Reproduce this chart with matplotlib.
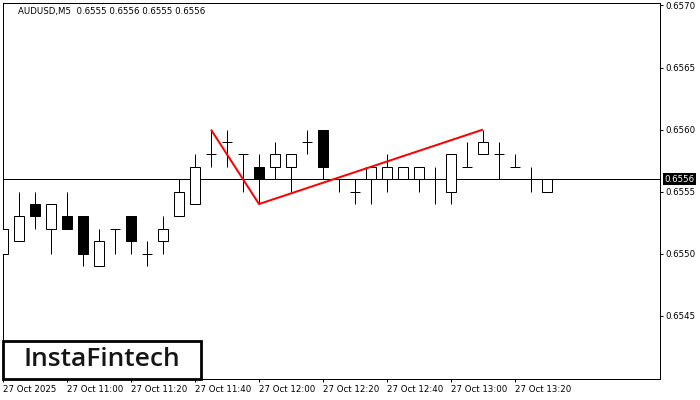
import matplotlib
matplotlib.use('Agg')
import matplotlib.pyplot as plt
from matplotlib.patches import Rectangle

# ---- data ----
symbol_title = "AUDUSD,M5  0.6555 0.6556 0.6555 0.6556"
opens  = [0.6550, 0.6551, 0.6554, 0.6552, 0.6553, 0.6553, 0.6549, 0.6552, 0.6553, 0.6550,
          0.6551, 0.6553, 0.6554, 0.6558, 0.6559, 0.6558, 0.6557, 0.6557, 0.6557, 0.6559,
          0.6560, 0.6556, 0.6555, 0.6556, 0.6556, 0.6556, 0.6556, 0.6556, 0.6555, 0.6557,
          0.6558, 0.6558, 0.6557, 0.6556, 0.6555]
highs  = [0.6552, 0.6555, 0.6555, 0.6554, 0.6555, 0.6553, 0.6552, 0.6552, 0.6553, 0.6551,
          0.6553, 0.6556, 0.6558, 0.6560, 0.6560, 0.6558, 0.6558, 0.6559, 0.6558, 0.6560,
          0.6560, 0.6556, 0.6556, 0.6557, 0.6558, 0.6557, 0.6557, 0.6557, 0.6558, 0.6559,
          0.6560, 0.6559, 0.6558, 0.6557, 0.6556]
lows   = [0.6548, 0.6551, 0.6552, 0.6550, 0.6552, 0.6549, 0.6549, 0.6550, 0.6550, 0.6549,
          0.6550, 0.6553, 0.6554, 0.6557, 0.6557, 0.6555, 0.6554, 0.6556, 0.6555, 0.6558,
          0.6556, 0.6555, 0.6554, 0.6554, 0.6555, 0.6556, 0.6555, 0.6554, 0.6554, 0.6557,
          0.6558, 0.6556, 0.6557, 0.6555, 0.6555]
closes = [0.6552, 0.6553, 0.6553, 0.6554, 0.6552, 0.6550, 0.6551, 0.6552, 0.6551, 0.6550,
          0.6552, 0.6555, 0.6557, 0.6558, 0.6559, 0.6558, 0.6556, 0.6558, 0.6558, 0.6559,
          0.6557, 0.6556, 0.6555, 0.6557, 0.6557, 0.6557, 0.6557, 0.6556, 0.6558, 0.6557,
          0.6559, 0.6558, 0.6557, 0.6556, 0.6556]
current_price = 0.6556
pattern_idx = [13, 16, 30]
pattern_price = [0.6560, 0.6554, 0.6560]
xtick_idx = [0, 4, 8, 12, 16, 20, 24, 28, 32]
xtick_labels = ["27 Oct 2025", "27 Oct 11:00", "27 Oct 11:20", "27 Oct 11:40", "27 Oct 12:00",
                "27 Oct 12:20", "27 Oct 12:40", "27 Oct 13:00", "27 Oct 13:20"]
yticks = [0.6545, 0.6550, 0.6555, 0.6560, 0.6565, 0.6570]
logo_text = "InstaFintech"

# ---- figure ----
W, H = 700, 400
fig = plt.figure(figsize=(7, 4), dpi=100)
fig.patch.set_facecolor('white')
L, R, T, B = 3, 659.5, 3, 379
ax = fig.add_axes([L / W, 1 - B / H, (R - L) / W, (B - T) / H])
px = 0.72  # one pixel in points

FS = 6.2
plt.rcParams['font.family'] = ['DejaVu Sans']

ax.set_xlim(0, (R - L) / 16.0)
ax.set_ylim(0.65399, 0.65702)

ax.axhline(current_price, color='black', lw=px, zorder=1)

bw = 0.58
for i, (o, h, l, c) in enumerate(zip(opens, highs, lows, closes)):
    ax.vlines(i, l, h, color='black', lw=px, zorder=2)
    if abs(c - o) < 1e-9:
        ax.hlines(o, i - bw / 2, i + bw / 2, color='black', lw=px, zorder=3)
    else:
        fc = 'white' if c > o else 'black'
        ax.add_patch(Rectangle((i - bw / 2, min(o, c)), bw, abs(c - o),
                               facecolor=fc, edgecolor='black', lw=px, zorder=3))

ax.plot(pattern_idx, pattern_price, color='#ff0000', lw=2 * px, zorder=5,
        solid_capstyle='butt')

for s in ax.spines.values():
    s.set_linewidth(px)
    s.set_color('black')

ax.yaxis.tick_right()
ax.set_yticks(yticks)
ax.set_yticklabels([f"{v:.4f}" for v in yticks])
ax.set_xticks(xtick_idx)
ax.set_xticklabels(xtick_labels, ha='left')
ax.tick_params(axis='both', direction='out', length=3 * px, width=px,
               labelsize=FS, colors='black')
ax.tick_params(axis='y', pad=2)
ax.tick_params(axis='x', pad=2)

ax.annotate(f"{current_price:.4f}", xy=(1.0, current_price),
            xycoords=('axes fraction', 'data'), xytext=(3.5, 0),
            textcoords='offset points', ha='left', va='center',
            fontsize=FS, color='white', zorder=10, annotation_clip=False,
            bbox=dict(boxstyle='square,pad=0.18', fc='black', ec='black', lw=0))

fig.text(18 / W, 1 - 11.5 / H, symbol_title, fontsize=FS, color='black',
         ha='left', va='center')

# logo
fig.patches.append(Rectangle((3 / W, 1 - 378.5 / H), 198 / W, 38 / H,
                             transform=fig.transFigure, facecolor='white',
                             edgecolor='black', lw=2.0, zorder=20))
fig.text(101.5 / W, 1 - 359 / H, logo_text, fontsize=19, color='#151515',
         family=['Open Sans', 'DejaVu Sans'], weight='semibold',
         ha='center', va='center', zorder=21)

fig.savefig('out.png', dpi=100)
